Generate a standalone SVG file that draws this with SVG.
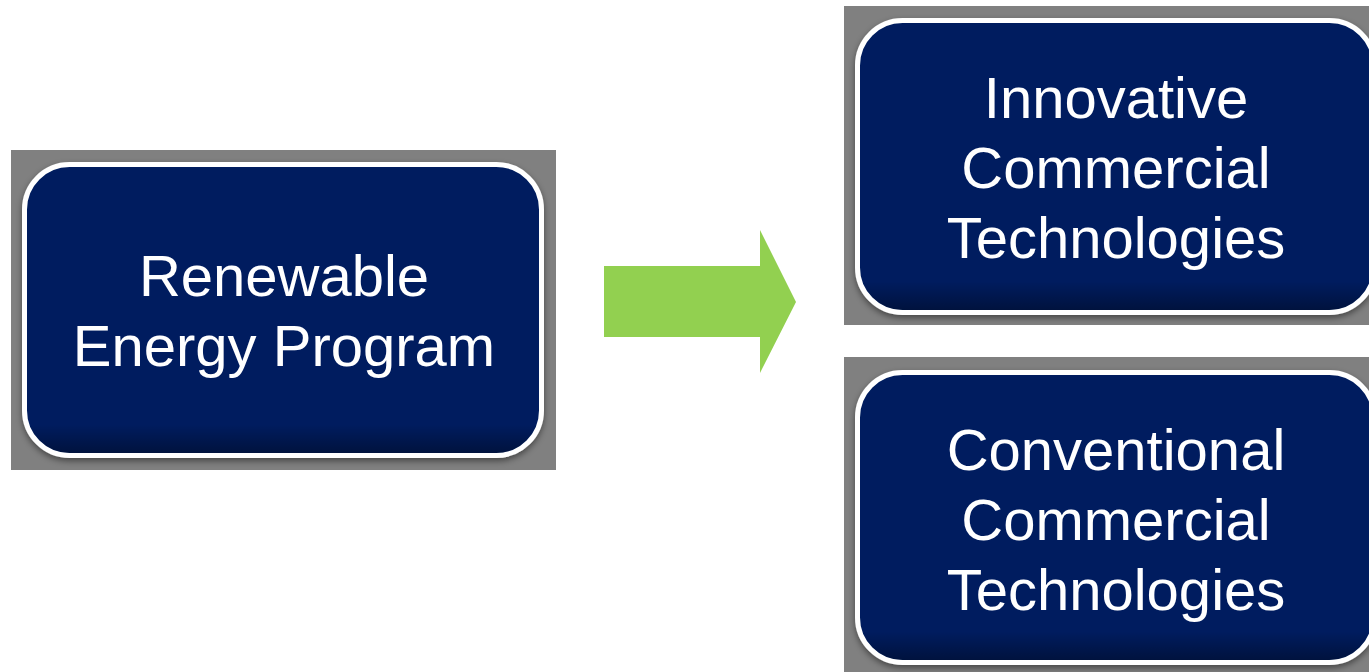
<svg xmlns="http://www.w3.org/2000/svg" width="1369" height="672" viewBox="0 0 1369 672">
<style>
.bg{fill:#808080}
.box{fill:#001F5F;stroke:#FFFFFF;stroke-width:5;filter:url(#sh)}
.lbl{font-family:"Liberation Sans",Arial,sans-serif;font-size:58px;fill:#FFFFFF;text-anchor:middle}
</style>
<defs>
<filter id="sh" x="-10%" y="-10%" width="120%" height="125%">
<feDropShadow dx="0" dy="3" stdDeviation="3" flood-color="#000000" flood-opacity="0.45"/>
</filter>
<linearGradient id="bev" x1="0" y1="0" x2="0" y2="1">
<stop offset="0" stop-color="#000000" stop-opacity="0"/>
<stop offset="0.9" stop-color="#000000" stop-opacity="0"/>
<stop offset="1" stop-color="#000000" stop-opacity="0.35"/>
</linearGradient>
</defs>
<g id="node-renewable">
<rect class="bg" x="11" y="150" width="545" height="320"/>
<rect class="box" x="24.5" y="164.5" width="517" height="291" rx="45"/>
<rect x="27" y="167" width="512" height="286" rx="43" fill="url(#bev)"/>
<text class="lbl" x="284" y="296">Renewable</text>
<text class="lbl" x="284" y="366">Energy Program</text>
</g>
<g id="node-innovative">
<rect class="bg" x="844" y="6" width="525" height="319"/>
<rect class="box" x="857.5" y="20.5" width="517" height="292" rx="45"/>
<rect x="860" y="23" width="512" height="287" rx="43" fill="url(#bev)"/>
<text class="lbl" x="1116" y="118">Innovative</text>
<text class="lbl" x="1116" y="188">Commercial</text>
<text class="lbl" x="1116" y="258">Technologies</text>
</g>
<g id="node-conventional">
<rect class="bg" x="844" y="357" width="525" height="315"/>
<rect class="box" x="857.5" y="372.5" width="517" height="290" rx="45"/>
<rect x="860" y="375" width="512" height="285" rx="43" fill="url(#bev)"/>
<text class="lbl" x="1116" y="470">Conventional</text>
<text class="lbl" x="1116" y="540">Commercial</text>
<text class="lbl" x="1116" y="610">Technologies</text>
</g>
<g id="connectors">
<polygon points="604,266 760,266 760,230 796,302 760,373 760,337 604,337" fill="#92D050"/>
</g>
</svg>
